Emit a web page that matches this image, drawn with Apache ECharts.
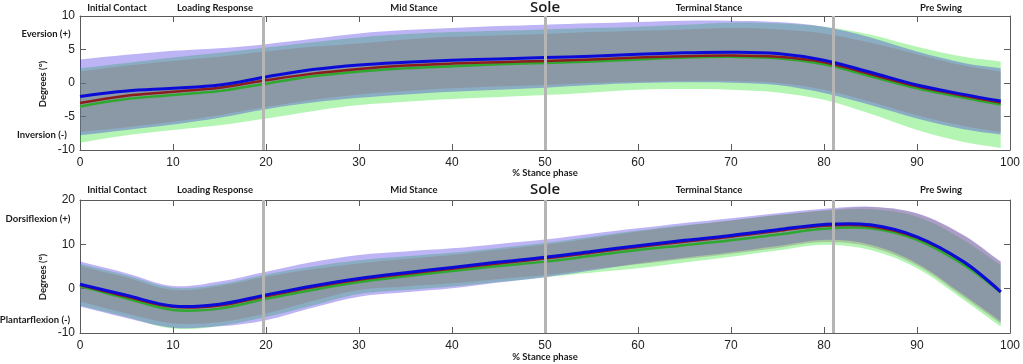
<!DOCTYPE html>
<html>
<head>
<meta charset="utf-8">
<script src="https://cdn.jsdelivr.net/npm/echarts@6/dist/echarts.min.js"></script>
<style>
  html, body { margin: 0; padding: 0; background: #fff; }
  #chart { width: 1023px; height: 364px; }
</style>
</head>
<body>
<div id="chart"></div>
<script>
// % stance phase sample points
var pct = [0, 5, 10, 15, 20, 25, 30, 35, 40, 45, 50, 55, 60, 65, 70, 75, 80, 85, 90, 95, 99];

// top panel: eversion / inversion (deg)
var topBlueMean  = [-2.0, -1.2, -0.8, -0.3, 0.9, 2.0, 2.7, 3.1, 3.4, 3.6, 3.8, 4.0, 4.3, 4.5, 4.6, 4.4, 3.4, 1.6, -0.3, -1.7, -2.7];
var topRedMean   = [-3.0, -1.9, -1.3, -0.7, 0.4, 1.4, 2.1, 2.6, 2.9, 3.1, 3.3, 3.5, 3.8, 4.0, 4.1, 3.9, 3.1, 1.3, -0.5, -1.9, -2.9];
var topGreenMean = [-3.5, -2.4, -1.8, -1.2, -0.1, 1.0, 1.7, 2.2, 2.5, 2.8, 3.0, 3.2, 3.5, 3.8, 3.9, 3.7, 2.8, 1.0, -0.8, -2.2, -3.2];
var topBlueHi  = [3.5, 4.2, 4.8, 5.2, 5.8, 6.6, 7.4, 7.9, 8.2, 8.5, 8.7, 8.9, 9.1, 9.3, 9.3, 9.1, 8.4, 6.8, 4.7, 3.0, 2.2];
var topBlueLo  = [-7.8, -7.0, -6.2, -5.2, -3.9, -2.9, -2.2, -1.7, -1.3, -1.0, -0.7, -0.3, 0.0, 0.1, 0.05, -0.3, -1.5, -3.3, -5.3, -6.9, -7.7];
var topRedHi   = [1.7, 2.6, 3.3, 3.9, 4.7, 5.4, 5.9, 6.5, 6.9, 7.1, 7.3, 7.6, 7.8, 8.0, 8.2, 8.0, 7.4, 6.0, 4.3, 2.6, 1.7];
var topRedLo   = [-7.3, -6.6, -5.8, -4.8, -3.6, -2.5, -1.7, -1.2, -0.8, -0.5, -0.3, 0.0, 0.2, 0.3, 0.3, 0.0, -1.0, -2.8, -4.8, -6.4, -7.3];
var topGreenHi = [2.2, 3.0, 3.8, 4.5, 5.3, 6.1, 6.8, 7.3, 7.6, 7.8, 8.0, 8.2, 8.4, 8.7, 9.0, 8.9, 8.4, 7.2, 5.4, 3.9, 3.2];
var topGreenLo = [-8.9, -7.8, -7.0, -6.3, -5.3, -4.2, -3.3, -2.8, -2.4, -2.1, -1.8, -1.4, -1.0, -0.9, -1.0, -1.4, -2.5, -4.6, -7.0, -8.8, -9.7];

// bottom panel: dorsiflexion / plantarflexion (deg)
var botBlueMean  = [1.0, -1.5, -3.9, -3.5, -1.4, 0.6, 2.3, 3.6, 4.8, 6.0, 7.1, 8.4, 9.7, 10.9, 12.0, 13.3, 14.5, 14.4, 11.7, 6.1, -0.7];
var botRedMean   = [0.8, -1.8, -4.1, -3.8, -1.7, 0.3, 2.0, 3.3, 4.5, 5.7, 6.8, 8.1, 9.4, 10.6, 11.7, 13.0, 14.2, 14.1, 11.5, 6.0, -0.7];
var botGreenMean = [0.6, -2.2, -4.8, -4.5, -2.3, -0.3, 1.5, 2.8, 4.0, 5.1, 6.1, 7.4, 8.7, 9.8, 10.9, 12.2, 13.5, 13.6, 11.0, 5.4, -0.8];
var botBlueHi  = [6.1, 3.5, 0.6, 1.6, 3.8, 6.0, 7.6, 8.4, 9.1, 10.1, 11.1, 12.4, 13.6, 14.8, 15.9, 17.0, 18.0, 18.5, 17.0, 12.1, 6.1];
var botBlueLo  = [-4.0, -6.6, -8.8, -8.5, -7.1, -4.3, -1.8, -0.8, 0.1, 1.4, 2.6, 4.1, 5.7, 7.0, 8.2, 9.6, 11.0, 9.9, 5.7, -1.4, -7.4];
var botRedHi   = [5.1, 2.5, -0.3, 0.6, 2.7, 4.4, 5.7, 6.7, 7.6, 8.8, 9.9, 11.4, 12.9, 14.2, 15.4, 16.6, 17.7, 18.4, 16.9, 12.0, 6.0];
var botRedLo   = [-2.9, -5.6, -7.8, -7.5, -5.6, -2.8, -0.3, 0.5, 1.2, 2.2, 3.1, 4.4, 5.5, 6.7, 7.9, 9.2, 10.5, 9.4, 5.2, -1.9, -7.9];
var botGreenHi = [5.6, 3.0, 0.2, 1.0, 3.2, 5.0, 6.4, 7.3, 8.1, 9.2, 10.3, 11.7, 13.1, 14.3, 15.4, 16.6, 17.6, 17.9, 16.2, 11.0, 5.3];
var botGreenLo = [-3.8, -6.4, -9.0, -8.4, -6.4, -3.8, -1.2, -0.3, 0.5, 1.5, 2.6, 3.6, 4.6, 5.9, 7.2, 8.6, 9.9, 8.7, 4.6, -2.5, -8.6];

// gait phase borders (% stance)
var phaseLines = [19.7, 50, 81];

var chart = echarts.init(document.getElementById("chart"));

// shaded ±SD band, drawn as one smoothed polygon through the axis scales
function band(panel, lo, hi, color) {
  return {
    type: "custom", xAxisIndex: panel * 2, yAxisIndex: panel * 2, silent: true,
    data: pct.map(function (x, i) { return [x, lo[i], hi[i]]; }),
    encode: { x: 0, y: [1, 2] },
    renderItem: function (params, api) {
      if (params.dataIndex !== 0) return null;
      var up = pct.map(function (x, i) { return api.coord([x, hi[i]]); });
      var dn = pct.map(function (x, i) { return api.coord([x, lo[i]]); }).reverse();
      var n = up.length;
      // corners doubled so the band ends stay straight
      var pts = [up[0]].concat(up, [up[n - 1]], [dn[0]], dn, [dn[n - 1]]);
      return {
        type: "polygon",
        shape: { points: pts, smooth: 0.35 },
        style: { fill: color, opacity: 0.35 }
      };
    }
  };
}

// mean curve, same smoothing as the bands
function meanLine(panel, arr, color, width) {
  return {
    type: "custom", xAxisIndex: panel * 2, yAxisIndex: panel * 2, silent: true,
    data: pct.map(function (x, i) { return [x, arr[i]]; }),
    encode: { x: 0, y: 1 },
    renderItem: function (params, api) {
      if (params.dataIndex !== 0) return null;
      var pts = pct.map(function (x, i) { return api.coord([x, arr[i]]); });
      return {
        type: "polyline",
        shape: { points: pts, smooth: 0.35 },
        style: { stroke: color, lineWidth: width, fill: null, lineJoin: "round" }
      };
    }
  };
}

function phaseMarks(panel) {
  return {
    type: "line", xAxisIndex: panel * 2, yAxisIndex: panel * 2,
    data: [], silent: true, z: 10,
    markLine: {
      silent: true, symbol: ["none", "none"],
      label: { show: false },
      lineStyle: { color: "#b5b5b5", width: 3, type: "solid" },
      data: phaseLines.map(function (v) { return { xAxis: v }; })
    }
  };
}

var axisColor = "#5a5a5a";
var labelFont = { color: "#222", fontSize: 12, fontFamily: "Liberation Sans" };

function xAxes(gridIndex) {
  return [
    {
      type: "value", gridIndex: gridIndex, min: 0, max: 100, interval: 10, position: "bottom",
      axisLine: { onZero: false, lineStyle: { color: axisColor } },
      axisTick: { inside: true, length: 6, lineStyle: { color: axisColor } },
      axisLabel: Object.assign({ margin: 7 }, labelFont),
      splitLine: { show: false }
    },
    {
      type: "value", gridIndex: gridIndex, min: 0, max: 100, interval: 10, position: "top",
      axisLine: { onZero: false, lineStyle: { color: axisColor } },
      axisTick: { inside: true, length: 6, lineStyle: { color: axisColor } },
      axisLabel: { show: false },
      splitLine: { show: false }
    }
  ];
}

function yAxes(gridIndex, min, max, interval) {
  return [
    {
      type: "value", gridIndex: gridIndex, min: min, max: max, interval: interval, position: "left",
      axisLine: { show: true, onZero: false, lineStyle: { color: axisColor } },
      axisTick: { show: true, inside: true, length: 6, lineStyle: { color: axisColor } },
      axisLabel: Object.assign({ margin: 5 }, labelFont),
      splitLine: { show: false }
    },
    {
      type: "value", gridIndex: gridIndex, min: min, max: max, interval: interval, position: "right",
      axisLine: { show: true, onZero: false, lineStyle: { color: axisColor } },
      axisTick: { show: true, inside: true, length: 6, lineStyle: { color: axisColor } },
      axisLabel: { show: false },
      splitLine: { show: false }
    }
  ];
}

var blueBand = "rgb(64,41,223)";
var greenBand = "rgb(40,225,40)";
var redBand = "rgb(140,115,110)";

var series = [
  band(0, topGreenLo, topGreenHi, greenBand),
  band(0, topBlueLo, topBlueHi, blueBand),
  band(0, topRedLo, topRedHi, redBand),
  meanLine(0, topGreenMean, "#2fa82f", 2.5),
  meanLine(0, topRedMean, "#8b1d1d", 2.5),
  meanLine(0, topBlueMean, "#0b0bd8", 3),
  phaseMarks(0),
  band(1, botGreenLo, botGreenHi, greenBand),
  band(1, botBlueLo, botBlueHi, blueBand),
  band(1, botRedLo, botRedHi, redBand),
  meanLine(1, botGreenMean, "#2fa82f", 2.5),
  meanLine(1, botRedMean, "#8b1d1d", 2.5),
  meanLine(1, botBlueMean, "#0b0bd8", 3),
  phaseMarks(1)
];

var phaseNames = ["Initial Contact", "Loading Response", "Mid Stance", "Terminal Stance", "Pre Swing"];
var phaseX = [117, 215, 414, 709, 941];

function txt(s, x, y, size, rot, weight, family) {
  return {
    type: "text", x: x, y: y, rotation: rot || 0, silent: true,
    style: {
      text: s, fill: "#1a1a1a", align: "center", verticalAlign: "middle",
      font: (weight || "bold") + " " + size + "px " + (family || "Lato, sans-serif")
    }
  };
}

var graphic = [];
[8, 190].forEach(function (y) {
  phaseNames.forEach(function (n, i) { graphic.push(txt(n, phaseX[i], y, 9.5)); });
  graphic.push(txt("Sole", 545, y - 0.5, 15, 0, "600", "'Open Sans', sans-serif"));
});
graphic.push(txt("Eversion (+)", 46, 34, 9.5));
graphic.push(txt("Inversion (-)", 42, 135, 9.5));
graphic.push(txt("Degrees (°)", 43, 84, 9.5, Math.PI / 2));
graphic.push(txt("Dorsiflexion (+)", 38, 219, 9.5));
graphic.push(txt("Plantarflexion (-)", 35, 320, 9.5));
graphic.push(txt("Degrees (°)", 43, 277, 9.5, Math.PI / 2));
graphic.push(txt("% Stance phase", 545, 173, 9.5));
graphic.push(txt("% Stance phase", 545, 357, 9.5));

chart.setOption({
  animation: false,
  backgroundColor: "#fff",
  grid: [
    { left: 80, right: 12, top: 16, height: 134 },
    { left: 80, right: 12, top: 200, height: 133 }
  ],
  xAxis: xAxes(0).concat(xAxes(1)),
  yAxis: yAxes(0, -10, 10, 5).concat(yAxes(1, -10, 20, 10)),
  series: series,
  graphic: graphic
});
</script>
</body>
</html>
